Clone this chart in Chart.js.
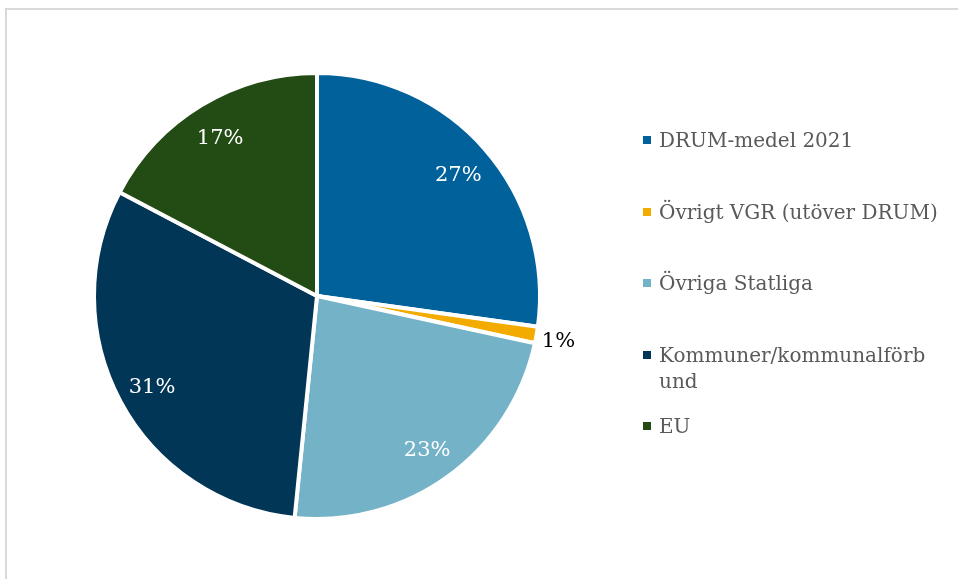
<!DOCTYPE html>
<html>
<head>
<meta charset="utf-8">
<script src="https://cdn.jsdelivr.net/npm/chart.js@4"></script>
<style>
  html, body { margin: 0; padding: 0; background: #fff; }
  #wrap { position: relative; width: 958px; height: 579px; }
</style>
</head>
<body>
<div id="wrap"><canvas id="pie" width="958" height="579"></canvas></div>
<script>
// =======================================
// Pie: fördelning av finansiering
// =======================================

const categories = [
    'DRUM-medel 2021',
    'Övrigt VGR (utöver DRUM)',
    'Övriga Statliga',
    ['Kommuner/kommunalförb', 'und'],
    'EU'
];
const shares = [27.2, 1.2, 23.2, 31.1, 17.3];
const sliceColors = ['#01619b', '#f4ab00', '#74b2c8', '#023657', '#234b14'];

const FONT = '"DejaVu Serif", "Liberation Serif", serif';

// gray frame around the chart
const framePlugin = {
    id: 'frame',
    beforeDraw(chart) {
        const ctx = chart.ctx;
        ctx.save();
        ctx.strokeStyle = '#d9d9d9';
        ctx.lineWidth = 2;
        ctx.strokeRect(6, 9, 1200, 1200);
        ctx.restore();
    }
};

// percentage labels on the slices
const sliceLabels = {
    id: 'sliceLabels',
    afterDatasetsDraw(chart) {
        const ctx = chart.ctx;
        const meta = chart.getDatasetMeta(0);
        const data = chart.data.datasets[0].data;
        const total = data.reduce((a, b) => a + b, 0);

        ctx.save();
        ctx.font = '21px ' + FONT;
        ctx.textAlign = 'center';
        ctx.textBaseline = 'alphabetic';
        meta.data.forEach((arc, i) => {
            const { x, y, startAngle, endAngle, outerRadius } = arc.getProps(
                ['x', 'y', 'startAngle', 'endAngle', 'outerRadius'], true);
            const mid = (startAngle + endAngle) / 2;
            const pct = data[i] / total * 100;
            const outside = pct < 3;
            const r = outside ? outerRadius * 1.1 : outerRadius * 0.84;
            ctx.fillStyle = outside ? '#000000' : '#ffffff';
            // shift down by half the digit height so the glyphs are centred
            ctx.fillText(Math.round(pct) + '%', x + Math.cos(mid) * r, y + Math.sin(mid) * r + 8);
        });
        ctx.restore();
    }
};

// legend to the right, fixed row spacing
const sideLegend = {
    id: 'sideLegend',
    afterDraw(chart) {
        const ctx = chart.ctx;
        const rowY = [140, 212, 283, 355, 426];
        ctx.save();
        ctx.font = '20px ' + FONT;
        ctx.textAlign = 'left';
        ctx.textBaseline = 'alphabetic';
        chart.data.labels.forEach((label, i) => {
            const lines = Array.isArray(label) ? label : [label];
            ctx.fillStyle = sliceColors[i];
            ctx.fillRect(643, rowY[i] - 4, 8, 8);
            ctx.fillStyle = '#595959';
            lines.forEach((ln, j) => {
                ctx.fillText(ln, 659, rowY[i] + 7 + j * 26);
            });
        });
        ctx.restore();
    }
};

new Chart(document.getElementById('pie'), {
    type: 'pie',
    data: {
        labels: categories,
        datasets: [{
            data: shares,
            backgroundColor: sliceColors,
            borderColor: '#ffffff',
            borderWidth: 4
        }]
    },
    options: {
        responsive: false,
        animation: false,
        layout: { padding: { left: 92, right: 416, top: 71, bottom: 58 } },
        plugins: {
            legend: { display: false },
            tooltip: { enabled: false }
        }
    },
    plugins: [framePlugin, sliceLabels, sideLegend]
});
</script>
</body>
</html>
